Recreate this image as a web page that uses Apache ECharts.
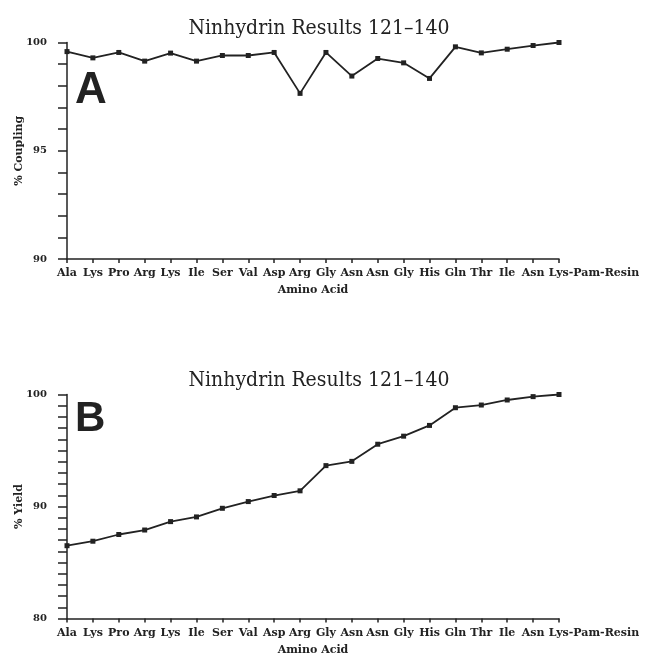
<!DOCTYPE html>
<html><head><meta charset="utf-8">
<script src="https://cdn.jsdelivr.net/npm/echarts@6/dist/echarts.min.js"></script>
<style>html,body{margin:0;padding:0;background:#fff}#c{width:649px;height:665px}</style>
</head><body><div id="c"></div>
<script>
var aminoAcids = ['Ala','Lys','Pro','Arg','Lys','Ile','Ser','Val','Asp','Arg','Gly','Asn','Asn','Gly','His','Gln','Thr','Ile','Asn','Lys-Pam-Resin'];
var couplingPct = [99.58,99.29,99.54,99.14,99.51,99.14,99.40,99.40,99.54,97.65,99.54,98.45,99.26,99.06,98.34,99.80,99.52,99.69,99.86,100.0];
var yieldPct = [86.5,86.9,87.5,87.9,88.65,89.07,89.84,90.44,90.98,91.4,93.65,94.03,95.56,96.28,97.24,98.82,99.06,99.51,99.81,100.0];
var titleText = 'Ninhydrin Results 121\u2013140';

var ink = '#222';
var lblFont = 'DejaVu Serif';

function xAx(gi){
  return {
    type:'category', gridIndex:gi, data:aminoAcids, boundaryGap:false,
    axisLine:{lineStyle:{color:ink,width:1.5}},
    axisTick:{show:true,length:4,lineStyle:{color:ink,width:1.5},alignWithLabel:true},
    axisLabel:{interval:0, margin:9, fontFamily:lblFont, fontWeight:'bold', fontSize:11, color:ink,
      formatter:function(v){ return v.length>3 ? '{last|'+v+'}' : v; },
      rich:{last:{fontFamily:lblFont, fontWeight:'bold', fontSize:11, color:ink, padding:[0,0,0,70]}}},
    name:'Amino Acid', nameLocation:'middle', nameGap:26, nameMoveOverlap:false,
    nameTextStyle:{fontFamily:lblFont, fontWeight:'bold', fontSize:11, color:ink},
    splitLine:{show:false}
  };
}
function yAx(gi,min,max,step,name){
  return {
    type:'value', gridIndex:gi, min:min, max:max, interval:1,
    axisLine:{show:true,lineStyle:{color:ink,width:1.5}},
    axisTick:{show:true,length:9,lineStyle:{color:ink,width:1.5}},
    axisLabel:{margin:20, fontFamily:lblFont, fontWeight:'bold', fontSize:10, color:ink,
      formatter:function(v){ return (v % step === 0) ? String(v) : ''; }, showMinLabel:true, showMaxLabel:true},
    splitLine:{show:false},
    name:name, nameLocation:'middle', nameGap:42, nameRotate:90, nameMoveOverlap:false,
    nameTextStyle:{fontFamily:lblFont, fontWeight:'bold', fontSize:11, color:ink}
  };
}
function ser(gi,data){
  return {type:'line', xAxisIndex:gi, yAxisIndex:gi, data:data, symbol:'rect', symbolSize:5,
    lineStyle:{color:ink,width:1.8}, itemStyle:{color:ink}, animation:false};
}
var chart = echarts.init(document.getElementById('c'));
chart.setOption({
  backgroundColor:'#fff',
  animation:false,
  title:[
    {text:titleText, left:314, textAlign:'center', top:13, textStyle:{fontFamily:'DejaVu Serif Condensed', fontWeight:'normal', fontSize:21, color:ink}},
    {text:titleText, left:314, textAlign:'center', top:365, textStyle:{fontFamily:'DejaVu Serif Condensed', fontWeight:'normal', fontSize:21, color:ink}},
    {text:'A', left:70, top:64, textStyle:{fontFamily:'Liberation Sans', fontWeight:'bold', fontSize:44, color:ink}},
    {text:'B', left:70, top:393, textStyle:{fontFamily:'Liberation Sans', fontWeight:'bold', fontSize:42, color:ink}}
  ],
  grid:[
    {left:67, top:42.5, width:492, height:216.5},
    {left:67, top:394.5, width:492, height:224}
  ],
  xAxis:[xAx(0), xAx(1)],
  yAxis:[yAx(0,90,100,5,'% Coupling'), yAx(1,80,100,10,'% Yield')],
  series:[ser(0,couplingPct), ser(1,yieldPct)]
});
</script></body></html>
